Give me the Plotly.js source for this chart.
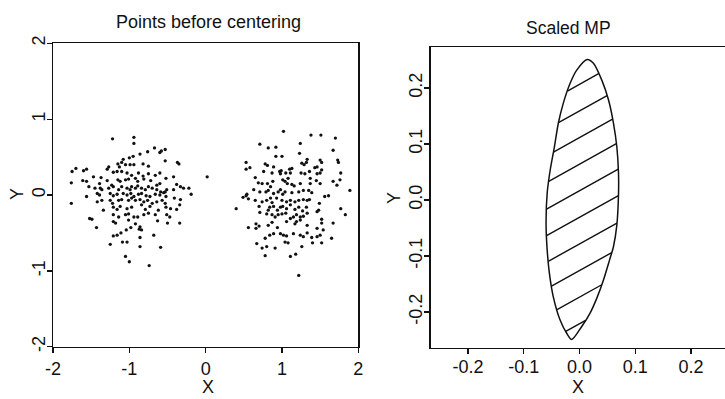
<!DOCTYPE html>
<html>
<head>
<meta charset="utf-8">
<script src="https://cdn.plot.ly/plotly-3.0.1.min.js"></script>
<style>html,body{margin:0;padding:0;background:#fff;}#chart{width:725px;height:399px;}</style>
</head>
<body>
<div id="chart"></div>
<script>
// ---- Panel 1: points before centering (two clusters) ----
const clusterLeftX = [
-1.22,-0.94,-0.94,-0.67,-0.60,-0.58,-0.53,-0.76,-0.86,-0.95,
-1.00,-1.08,-0.53,-0.37,-0.35,-1.10,-1.15,-1.05,-0.99,-0.94,
-1.13,-1.27,-1.29,-0.75,-0.82,-1.70,-1.75,-1.60,-1.56,-1.47,
-1.37,-1.21,-1.16,-1.10,-1.03,-0.97,-0.88,-0.82,-0.75,-0.66,
-0.60,-0.52,-0.42,0.02,-1.76,-1.61,-1.56,-1.39,-1.29,-1.23,
-1.15,-1.12,-1.05,-1.01,-0.92,-0.89,-0.81,-0.72,-0.64,-0.60,
-0.38,-0.33,-0.22,-0.19,-1.53,-1.45,-1.38,-1.36,-1.27,-1.21,
-1.14,-1.10,-1.03,-0.99,-0.97,-0.92,-0.89,-0.84,-0.79,-0.75,
-0.70,-0.64,-0.59,-0.53,-0.51,-0.42,-0.29,-1.56,-1.42,-1.39,
-1.25,-1.21,-1.16,-1.08,-1.03,-0.98,-0.94,-0.88,-0.84,-0.78,
-0.73,-0.66,-0.60,-0.55,-0.52,-0.41,-0.33,-1.76,-1.42,-1.36,
-1.25,-1.22,-1.14,-1.10,-1.01,-0.97,-0.92,-0.86,-0.81,-0.76,
-0.70,-0.64,-0.57,-0.53,-0.34,-1.34,-1.21,-1.16,-1.12,-1.03,
-0.97,-0.84,-0.79,-0.73,-0.62,-0.52,-0.46,-0.38,-1.52,-1.49,
-1.21,-1.14,-1.05,-1.01,-0.94,-0.89,-0.81,-0.75,-0.66,-0.51,
-0.47,-0.50,-0.34,-1.43,-1.21,-1.18,-1.01,-0.92,-0.86,-0.63,
-1.04,-0.98,-0.87,-0.84,-0.68,-1.21,-1.16,-1.11,-1.25,-1.09,
-1.03,-0.86,-0.86,-0.59,-1.05,-1.00,-0.74
];
const clusterLeftY = [
0.74,0.76,0.68,0.62,0.56,0.58,0.60,0.57,0.54,0.51,
0.49,0.47,0.45,0.43,0.41,0.43,0.41,0.40,0.40,0.40,
0.37,0.37,0.34,0.38,0.41,0.35,0.31,0.32,0.34,0.24,
0.23,0.30,0.31,0.31,0.29,0.26,0.29,0.25,0.28,0.26,
0.29,0.22,0.24,0.24,0.16,0.19,0.18,0.15,0.19,0.13,
0.20,0.18,0.20,0.21,0.22,0.18,0.21,0.19,0.13,0.15,
0.14,0.11,0.09,0.01,0.11,0.09,0.09,0.07,0.09,0.11,
0.07,0.11,0.09,0.07,0.11,0.09,0.12,0.09,0.07,0.11,
0.09,0.07,0.04,0.04,0.07,0.07,0.09,-0.02,0.02,0.00,
0.02,-0.01,0.01,0.02,0.00,0.02,-0.02,0.01,0.02,-0.01,
-0.02,0.01,0.00,0.03,-0.02,-0.04,-0.06,-0.11,-0.09,-0.07,
-0.07,-0.11,-0.07,-0.06,-0.07,-0.04,-0.07,-0.06,-0.09,-0.07,
-0.11,-0.09,-0.07,-0.11,-0.13,-0.20,-0.16,-0.19,-0.15,-0.18,
-0.16,-0.13,-0.19,-0.15,-0.20,-0.16,-0.18,-0.19,-0.31,-0.32,
-0.26,-0.29,-0.26,-0.25,-0.29,-0.29,-0.26,-0.24,-0.26,-0.26,
-0.29,-0.37,-0.37,-0.43,-0.35,-0.37,-0.33,-0.38,-0.42,-0.34,
-0.46,-0.43,-0.45,-0.46,-0.53,-0.54,-0.53,-0.50,-0.65,-0.62,
-0.62,-0.56,-0.68,-0.69,-0.81,-0.88,-0.93
];
const clusterRightX = [
1.02,1.38,1.51,1.70,0.71,0.82,0.92,1.24,0.92,1.00,
1.23,1.67,1.73,1.74,0.53,0.58,0.53,0.78,0.81,0.89,
0.99,0.97,1.10,1.13,1.26,1.29,1.32,1.33,1.43,1.46,
1.50,1.52,1.77,0.65,0.76,0.87,0.98,1.05,1.11,1.08,
1.25,1.30,1.36,1.37,1.46,1.50,1.45,1.52,0.54,0.69,
0.74,0.81,0.85,0.88,1.01,1.04,1.07,1.13,1.16,1.24,
1.37,1.50,1.67,1.72,1.76,0.49,0.56,0.53,0.63,0.71,
0.79,0.82,0.89,0.95,0.98,1.01,1.04,1.13,1.22,1.28,
1.35,1.39,1.56,1.61,1.89,0.40,0.65,0.74,0.80,0.85,
0.87,0.93,1.00,1.06,1.11,1.17,1.22,1.28,1.33,1.36,
1.49,0.70,0.82,0.84,0.89,0.94,0.98,1.01,1.06,1.11,
1.17,1.22,1.27,1.32,1.46,1.48,1.77,1.83,0.71,0.80,
0.87,0.91,0.95,1.00,1.05,1.11,1.15,1.19,1.24,1.28,
1.33,1.52,0.56,0.66,0.66,0.70,0.82,0.87,0.94,1.06,
1.17,1.19,1.24,1.33,1.46,1.52,1.67,0.78,0.84,0.89,
0.98,1.02,1.06,1.15,1.24,1.28,1.33,1.39,1.46,1.50,
1.54,1.65,0.67,0.74,0.80,0.91,1.04,1.08,1.26,1.40,
1.52,0.78,1.11,1.18,1.22
];
const clusterRightY = [
0.84,0.79,0.79,0.75,0.67,0.62,0.63,0.68,0.51,0.51,
0.55,0.59,0.46,0.43,0.43,0.36,0.34,0.41,0.39,0.37,
0.32,0.31,0.34,0.35,0.42,0.40,0.43,0.47,0.36,0.37,
0.46,0.43,0.29,0.23,0.31,0.29,0.28,0.29,0.29,0.22,
0.29,0.28,0.31,0.22,0.28,0.29,0.19,0.33,0.01,0.16,
0.15,0.15,0.11,0.18,0.20,0.18,0.15,0.14,0.12,0.15,
0.15,0.15,0.18,0.13,0.20,-0.03,-0.05,-0.01,0.07,0.04,
0.04,0.06,0.02,0.04,0.07,0.01,0.04,0.03,0.04,0.06,
0.06,0.03,-0.02,-0.01,0.06,-0.18,-0.07,-0.09,-0.07,-0.04,
-0.10,-0.04,-0.07,-0.09,-0.07,-0.09,-0.07,-0.06,-0.07,-0.06,
-0.11,-0.15,-0.20,-0.16,-0.15,-0.20,-0.16,-0.15,-0.18,-0.13,
-0.19,-0.16,-0.21,-0.16,-0.22,-0.20,-0.18,-0.26,-0.23,-0.25,
-0.26,-0.29,-0.26,-0.25,-0.24,-0.31,-0.29,-0.26,-0.29,-0.28,
-0.24,-0.32,-0.43,-0.38,-0.44,-0.41,-0.40,-0.36,-0.43,-0.35,
-0.38,-0.35,-0.33,-0.40,-0.44,-0.37,-0.37,-0.57,-0.53,-0.51,
-0.51,-0.53,-0.54,-0.51,-0.53,-0.55,-0.50,-0.56,-0.55,-0.53,
-0.46,-0.57,-0.64,-0.70,-0.68,-0.70,-0.62,-0.63,-0.68,-0.63,
-0.63,-0.80,-0.81,-0.78,-1.06
];
const leftTickVals = [-2, -1, 0, 1, 2];
const leftTickText = ["-2", "-1", "0", "1", "2"];

// ---- Panel 2: scaled MP region (outline) ----
const mpOutlineX = [0.014, 0.025, 0.040, 0.052, 0.061, 0.067, 0.070, 0.070, 0.067, 0.061, 0.054, 0.043, 0.032, 0.019, 0.004, -0.014,
                    -0.023, -0.035, -0.047, -0.054, -0.058, -0.060, -0.058, -0.0525, -0.045, -0.038, -0.029, -0.017, -0.005, 0.014];
const mpOutlineY = [0.251, 0.244, 0.214, 0.179, 0.137, 0.095, 0.048, 0.010, -0.045, -0.083, -0.107, -0.143, -0.173, -0.202, -0.226, -0.249,
                    -0.238, -0.214, -0.173, -0.131, -0.089, -0.042, 0.012, 0.054, 0.095, 0.137, 0.173, 0.208, 0.232, 0.251];
const rightTickVals = [-0.2, -0.1, 0.0, 0.1, 0.2];
const rightTickText = ["-0.2", "-0.1", "0.0", "0.1", "0.2"];

// hatch style (slope and spacing of the shading lines)
const hatchStyle = {slope: 0.554, spacing: 0.0475, offset: -0.031};

function hatchSegments(xs, ys, st) {
  const hx = [], hy = [];
  const n = xs.length;
  for (let k = -10; k <= 10; k++) {
    const c = st.offset + k * st.spacing;
    const hits = [];
    for (let i = 0; i < n; i++) {
      const x1 = xs[i], y1 = ys[i], x2 = xs[(i + 1) % n], y2 = ys[(i + 1) % n];
      const f1 = y1 - (st.slope * x1 + c), f2 = y2 - (st.slope * x2 + c);
      if ((f1 <= 0 && f2 > 0) || (f1 > 0 && f2 <= 0)) {
        const t = f1 / (f1 - f2);
        hits.push([x1 + t * (x2 - x1), y1 + t * (y2 - y1)]);
      }
    }
    if (hits.length >= 2) {
      hits.sort((a, b) => a[0] - b[0]);
      const a = hits[0], b = hits[hits.length - 1];
      hx.push(a[0], b[0], null);
      hy.push(a[1], b[1], null);
    }
  }
  return {hx, hy};
}
const hatch = hatchSegments(mpOutlineX, mpOutlineY, hatchStyle);

const FONT = "Liberation Sans, Arial, Helvetica, sans-serif";
const INK = "#111";

const traces = [
  {x: clusterLeftX, y: clusterLeftY, type: "scatter", mode: "markers",
   marker: {size: 3.3, color: INK}, xaxis: "x", yaxis: "y", hoverinfo: "skip"},
  {x: clusterRightX, y: clusterRightY, type: "scatter", mode: "markers",
   marker: {size: 3.3, color: INK}, xaxis: "x", yaxis: "y", hoverinfo: "skip"},
  {x: hatch.hx, y: hatch.hy, type: "scatter", mode: "lines",
   line: {color: INK, width: 1.4}, xaxis: "x2", yaxis: "y2", hoverinfo: "skip", connectgaps: false},
  {x: mpOutlineX, y: mpOutlineY, type: "scatter", mode: "lines",
   line: {color: INK, width: 1.5, shape: "spline", smoothing: 0.8}, xaxis: "x2", yaxis: "y2", hoverinfo: "skip"}
];

const W = 725, H = 399;
const px = v => v / W, py = v => (H - v) / H;

const axisCommon = {
  showgrid: false, zeroline: false, showline: true, linecolor: INK, linewidth: 1.3,
  ticks: "outside", ticklen: 5, tickwidth: 1.3, tickcolor: INK,
  tickfont: {family: FONT, size: 18, color: INK}, fixedrange: true
};

const layout = {
  width: W, height: H,
  margin: {l: 0, r: 0, t: 0, b: 0},
  paper_bgcolor: "#fff", plot_bgcolor: "#fff",
  showlegend: false,
  xaxis: Object.assign({}, axisCommon, {domain: [px(53), px(358.3)], range: [-2, 2], mirror: true,
    tickvals: leftTickVals, ticktext: leftTickText, anchor: "y"}),
  yaxis: Object.assign({}, axisCommon, {domain: [py(346.7), py(43.3)], range: [-2, 2], mirror: true,
    tickvals: leftTickVals, ticktext: leftTickText, tickangle: -90, ticklabelstandoff: -5, anchor: "x"}),
  xaxis2: Object.assign({}, axisCommon, {domain: [px(430.7), 1], range: [-0.267, 0.2611], mirror: true,
    tickvals: rightTickVals, ticktext: rightTickText, ticklabelstandoff: -3, anchor: "y2"}),
  yaxis2: Object.assign({}, axisCommon, {domain: [py(348), py(47)], range: [-0.2643, 0.2732], mirror: false,
    tickvals: rightTickVals, ticktext: rightTickText, tickangle: -90, ticklabelstandoff: -5, anchor: "x2"}),
  annotations: [
    {text: "Points before centering", x: px(208), y: py(22), xref: "paper", yref: "paper",
     xanchor: "center", yanchor: "middle", showarrow: false, font: {family: FONT, size: 18, color: INK}},
    {text: "Scaled MP", x: px(568.3), y: py(28), xref: "paper", yref: "paper",
     xanchor: "center", yanchor: "middle", showarrow: false, font: {family: FONT, size: 17.5, color: INK}},
    {text: "X", x: px(208), y: 0, xref: "paper", yref: "paper",
     xanchor: "center", yanchor: "bottom", showarrow: false, font: {family: FONT, size: 18, color: INK}},
    {text: "Y", x: px(17), y: py(194), xref: "paper", yref: "paper", textangle: -90,
     xanchor: "center", yanchor: "middle", showarrow: false, font: {family: FONT, size: 18, color: INK}},
    {text: "X", x: px(578.3), y: 0, xref: "paper", yref: "paper",
     xanchor: "center", yanchor: "bottom", showarrow: false, font: {family: FONT, size: 18, color: INK}},
    {text: "Y", x: px(394), y: py(198), xref: "paper", yref: "paper", textangle: -90,
     xanchor: "center", yanchor: "middle", showarrow: false, font: {family: FONT, size: 18, color: INK}}
  ]
};

Plotly.newPlot("chart", traces, layout, {staticPlot: true, displayModeBar: false});
</script>
</body>
</html>
